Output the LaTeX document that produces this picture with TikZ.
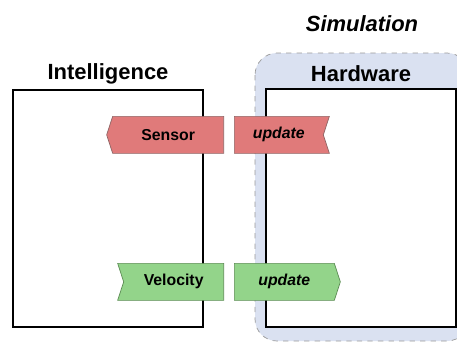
\documentclass[tikz,border=0pt]{standalone}
\usepackage{fontspec}
\setmainfont{Liberation Sans}
\usetikzlibrary{shapes.symbols}
\definecolor{simfill}{HTML}{DAE1F1}
\definecolor{simline}{HTML}{9A9A9A}
\definecolor{redfill}{HTML}{E07A7A}
\definecolor{redline}{HTML}{8E6565}
\definecolor{greenfill}{HTML}{93D48A}
\definecolor{greenline}{HTML}{5C8C54}
\begin{document}
\begin{tikzpicture}[x=0.02cm, y=-0.02cm,
    title/.style={font=\bfseries\fontsize{12.5}{14}\selectfont},
    box/.style={draw=black, line width=1.2pt, fill=white},
    msg/.style={signal, signal pointer angle=144, inner sep=0pt,
        minimum height=0.74cm, font=\bfseries\fontsize{9}{10}\selectfont},
    redmsg/.style={msg, fill=redfill, draw=redline},
    greenmsg/.style={msg, fill=greenfill, draw=greenline}]
    \useasboundingbox (0,0) rectangle (457,343);

    % simulation area
    \draw[simline, dashed, fill=simfill, rounded corners=0.44cm] (255,53) rectangle (469,341);

    \draw[box] (13,90) rectangle (203,327);
    \draw[box] (266,89) rectangle (456,327);

    \node[title] (intel) at (108,74) {Intelligence};
    \node[title] (hw) at (361,74) {Hardware};
    \node[title, font=\bfseries\itshape\fontsize{12.5}{14}\selectfont] (sim) at (362,24) {Simulation};

    % messages
    \node[redmsg, signal to=west, minimum width=2.34cm, anchor=north east] (sensor) at (224,116) {Sensor};
    \node[redmsg, signal to=nowhere, signal from=east, minimum width=1.9cm, anchor=north west] (sensorup) at (234,116) {\itshape update};
    \node[greenmsg, signal to=nowhere, signal from=west, minimum width=2.12cm, anchor=north east] (vel) at (224,263) {Velocity};
    \node[greenmsg, signal to=east, minimum width=2.12cm, anchor=north west] (velup) at (234,263) {\itshape update};
\end{tikzpicture}
\end{document}
